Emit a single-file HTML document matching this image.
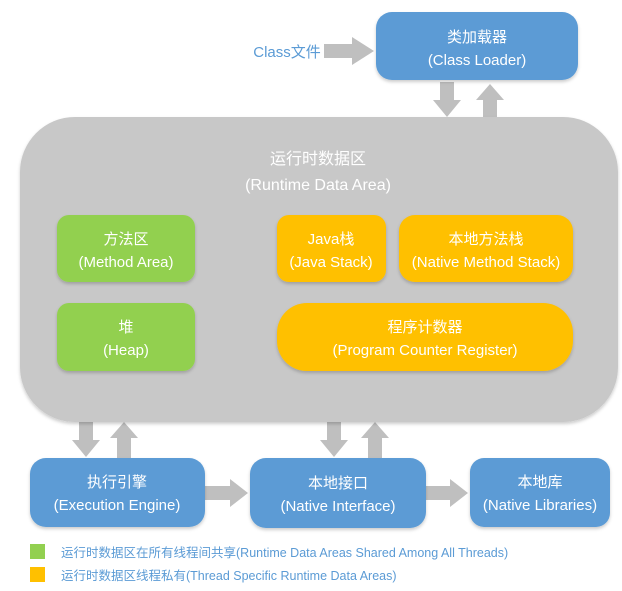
<!DOCTYPE html>
<html><head><meta charset="utf-8"><style>
body{margin:0;background:#fff;}
svg text{font-family:"Liberation Sans","Noto Sans CJK SC",sans-serif;}
</style></head><body>
<svg width="622" height="586" viewBox="0 0 622 586" xmlns="http://www.w3.org/2000/svg">
<defs><filter id="sh" x="-10%" y="-10%" width="120%" height="130%"><feDropShadow dx="0" dy="2" stdDeviation="1.5" flood-color="#000" flood-opacity="0.2"/></filter></defs>
<g fill="#BFBFBF">
<!-- class arrow -->
<polygon points="324,44 352,44 352,37 374,51 352,65 352,58 324,58"/>
<!-- top arrows -->
<polygon points="440,82 454,82 454,100 461,100 447,117 433,100 440,100"/>
<polygon points="483,117 497,117 497,100 504,100 490,84 476,100 483,100"/>
<!-- bottom left -->
<polygon points="79,420 93,420 93,440 100,440 86,457 72,440 79,440"/>
<polygon points="117,458 131,458 131,438 138,438 124,422 110,438 117,438"/>
<!-- bottom middle -->
<polygon points="327,420 341,420 341,440 348,440 334,457 320,440 327,440"/>
<polygon points="368,458 382,458 382,438 389,438 375,422 361,438 368,438"/>
<!-- right arrows -->
<polygon points="205,486 230,486 230,479 248,493 230,507 230,500 205,500"/>
<polygon points="426,486 450,486 450,479 468,493 450,507 450,500 426,500"/>
</g>
<rect x="20" y="117" width="598" height="305" rx="55" fill="#C8C8C8" filter="url(#sh)"/>
<text x="318" y="164" font-size="16" fill="#fff" text-anchor="middle">运行时数据区</text>
<text x="318" y="190" font-size="16" fill="#fff" text-anchor="middle">(Runtime Data Area)</text>
<g filter="url(#sh)">
<rect x="376" y="12" width="202" height="68" rx="16" fill="#5B9BD5"/>
<rect x="57" y="215" width="138" height="67" rx="12" fill="#92D050"/>
<rect x="57" y="303" width="138" height="68" rx="12" fill="#92D050"/>
<rect x="277" y="215" width="109" height="67" rx="12" fill="#FFC000"/>
<rect x="399" y="215" width="174" height="67" rx="16" fill="#FFC000"/>
<rect x="277" y="303" width="296" height="68" rx="30" fill="#FFC000"/>
<rect x="30" y="458" width="175" height="69" rx="16" fill="#5B9BD5"/>
<rect x="250" y="458" width="176" height="70" rx="16" fill="#5B9BD5"/>
<rect x="470" y="458" width="140" height="69" rx="14" fill="#5B9BD5"/>
</g>
<text x="287" y="57" font-size="15" fill="#5B9BD5" text-anchor="middle">Class文件</text>
<g fill="#fff" font-size="15" text-anchor="middle">
<text x="477" y="42">类加载器</text><text x="477" y="65">(Class Loader)</text>
<text x="126" y="244">方法区</text><text x="126" y="267">(Method Area)</text>
<text x="126" y="332">堆</text><text x="126" y="355">(Heap)</text>
<text x="331" y="244">Java栈</text><text x="331" y="267">(Java Stack)</text>
<text x="486" y="244">本地方法栈</text><text x="486" y="267">(Native Method Stack)</text>
<text x="425" y="332">程序计数器</text><text x="425" y="355">(Program Counter Register)</text>
<text x="117" y="487">执行引擎</text><text x="117" y="510">(Execution Engine)</text>
<text x="338" y="488">本地接口</text><text x="338" y="511">(Native Interface)</text>
<text x="540" y="487">本地库</text><text x="540" y="510">(Native Libraries)</text>
</g>
<rect x="30" y="544" width="15" height="15" fill="#92D050"/>
<rect x="30" y="567" width="15" height="15" fill="#FFC000"/>
<text x="61" y="557" font-size="12.5" fill="#5B9BD5">运行时数据区在所有线程间共享(Runtime Data Areas Shared Among All Threads)</text>
<text x="61" y="580" font-size="12.5" fill="#5B9BD5">运行时数据区线程私有(Thread Specific Runtime Data Areas)</text>
</svg>
</body></html>
